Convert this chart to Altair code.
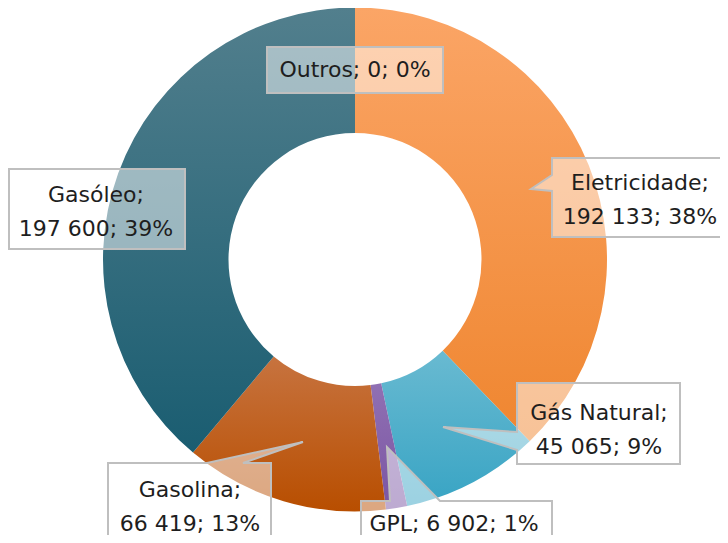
import altair as alt
import pandas as pd

# ---------------- data ----------------
categories = ["Eletricidade", "Gás Natural", "GPL", "Gasolina", "Gasóleo", "Outros"]
values = [192133, 45065, 6902, 66419, 197600, 0]

# ---------------- styles ----------------
colors_top = ["#FBA566", "#69BAD1", "#9070B3", "#C7733F", "#527F8D", "#A5A5A5"]
colors_bottom = ["#EF8630", "#38A4C4", "#7A55A3", "#B84E00", "#1A5D71", "#7F7F7F"]

# ---------------- layout (page pixels) ----------------
OFF = 8  # page margin
# ty = centre of the first text line
layout = {
    "Outros":       dict(box=(267, 47, 443, 93),   ptr=None,                          wrap=False, tx=355, ty=70),
    "Eletricidade": dict(box=(552, 158, 723, 237), ptr=("left", 175, 191, 531, 189),  wrap=True,  tx=640, ty=183),
    "Gás Natural":  dict(box=(517, 383, 680, 464), ptr=("left", 432, 450, 443, 427),  wrap=True,  tx=599, ty=413),
    "Gasolina":     dict(box=(108, 463, 271, 575), ptr=("top", 207, 243, 303, 442),   wrap=True,  tx=190, ty=490),
    "GPL":          dict(box=(361, 501, 552, 575), ptr=("top", 390, 440, 387, 447),   wrap=False, tx=454, ty=524),
    "Gasóleo":      dict(box=(9, 169, 185, 249),   ptr=None,                          wrap=True,  tx=96,  ty=195),
}
CX, CY = 355, 259.5        # donut centre (page)
R_OUT, R_IN = 252, 126.5
W_VIEW, H_VIEW = 2 * (CX - OFF), 2 * (CY - OFF)
TOTAL_W, TOTAL_H = 712, 527

total = sum(values)


def fmt(v):
    return f"{v:,}".replace(",", " ")


# slices table
df = pd.DataFrame({"cat": categories, "value": values, "order": list(range(len(categories)))})

base = (
    alt.Chart(df)
    .transform_window(end="sum(value)", frame=[None, 0], sort=[alt.SortField("order")])
    .transform_calculate(start="datum.end - datum.value")
)

layers = []
for cat, ct, cb in zip(categories, colors_top, colors_bottom):
    grad = alt.LinearGradient(
        gradient="linear",
        stops=[alt.GradientStop(color=ct, offset=0), alt.GradientStop(color=cb, offset=1)],
        x1=0, x2=0, y1=0, y2=1,
    )
    layers.append(
        base.transform_filter(alt.datum.cat == cat)
        .mark_arc(radius=R_OUT, radius2=R_IN, fill=grad)
        .encode(
            theta=alt.Theta("start:Q", scale=alt.Scale(domain=[0, total])),
            theta2="end:Q",
        )
    )


# callout shapes + label text
def callout_path(lay):
    x0, y0, x1, y1 = lay["box"]
    w, h = x1 - x0, y1 - y0
    pts = [(0, 0)]
    p = lay["ptr"]
    if p and p[0] == "top":
        _, a, b, tx, ty = p
        pts += [(a - x0, 0), (tx - x0, ty - y0), (b - x0, 0)]
    pts += [(w, 0), (w, h), (0, h)]
    if p and p[0] == "left":
        _, a, b, tx, ty = p
        pts += [(0, b - y0), (tx - x0, ty - y0), (0, a - y0)]
    return "M" + " L".join(f"{x},{y}" for x, y in pts) + " Z"


rows = []
for cat, v in zip(categories, values):
    lay = layout[cat]
    pct = round(v / total * 100)
    sep = "\n" if lay["wrap"] else " "
    rows.append(dict(
        cat=cat,
        label=f"{cat};{sep}{fmt(v)}; {pct}%",
        bx=lay["box"][0] - OFF, by=lay["box"][1] - OFF,
        path=callout_path(lay),
        tx=lay["tx"] - OFF, ty=lay["ty"] - OFF,
    ))
lab = pd.DataFrame(rows)

boxes = alt.Chart(lab).mark_point(
    fill="white", fillOpacity=0.5, stroke="#BFBFBF", strokeWidth=2, size=4, opacity=1, filled=False
).encode(
    x=alt.X("bx:Q", scale=None, axis=None),
    y=alt.Y("by:Q", scale=None, axis=None),
    shape=alt.Shape("path:N", scale=None, legend=None),
)

texts = alt.Chart(lab).mark_text(
    font="DejaVu Sans", fontSize=22, lineBreak="\n", lineHeight=34,
    align="center", baseline="middle", color="#1E1E1E",
).encode(
    x=alt.X("tx:Q", scale=None, axis=None),
    y=alt.Y("ty:Q", scale=None, axis=None),
    text="label:N",
)

chart = (
    alt.layer(*layers, boxes, texts)
    .resolve_scale(theta="shared")
    .properties(
        width=W_VIEW, height=H_VIEW,
        autosize=alt.AutoSizeParams(type="none"),
        padding={"left": 0, "top": 0, "right": TOTAL_W - W_VIEW, "bottom": TOTAL_H - H_VIEW},
        background="white",
    )
    .configure_view(stroke=None)
)

chart.save("out.html", embed_options={"renderer": "svg", "actions": False})
